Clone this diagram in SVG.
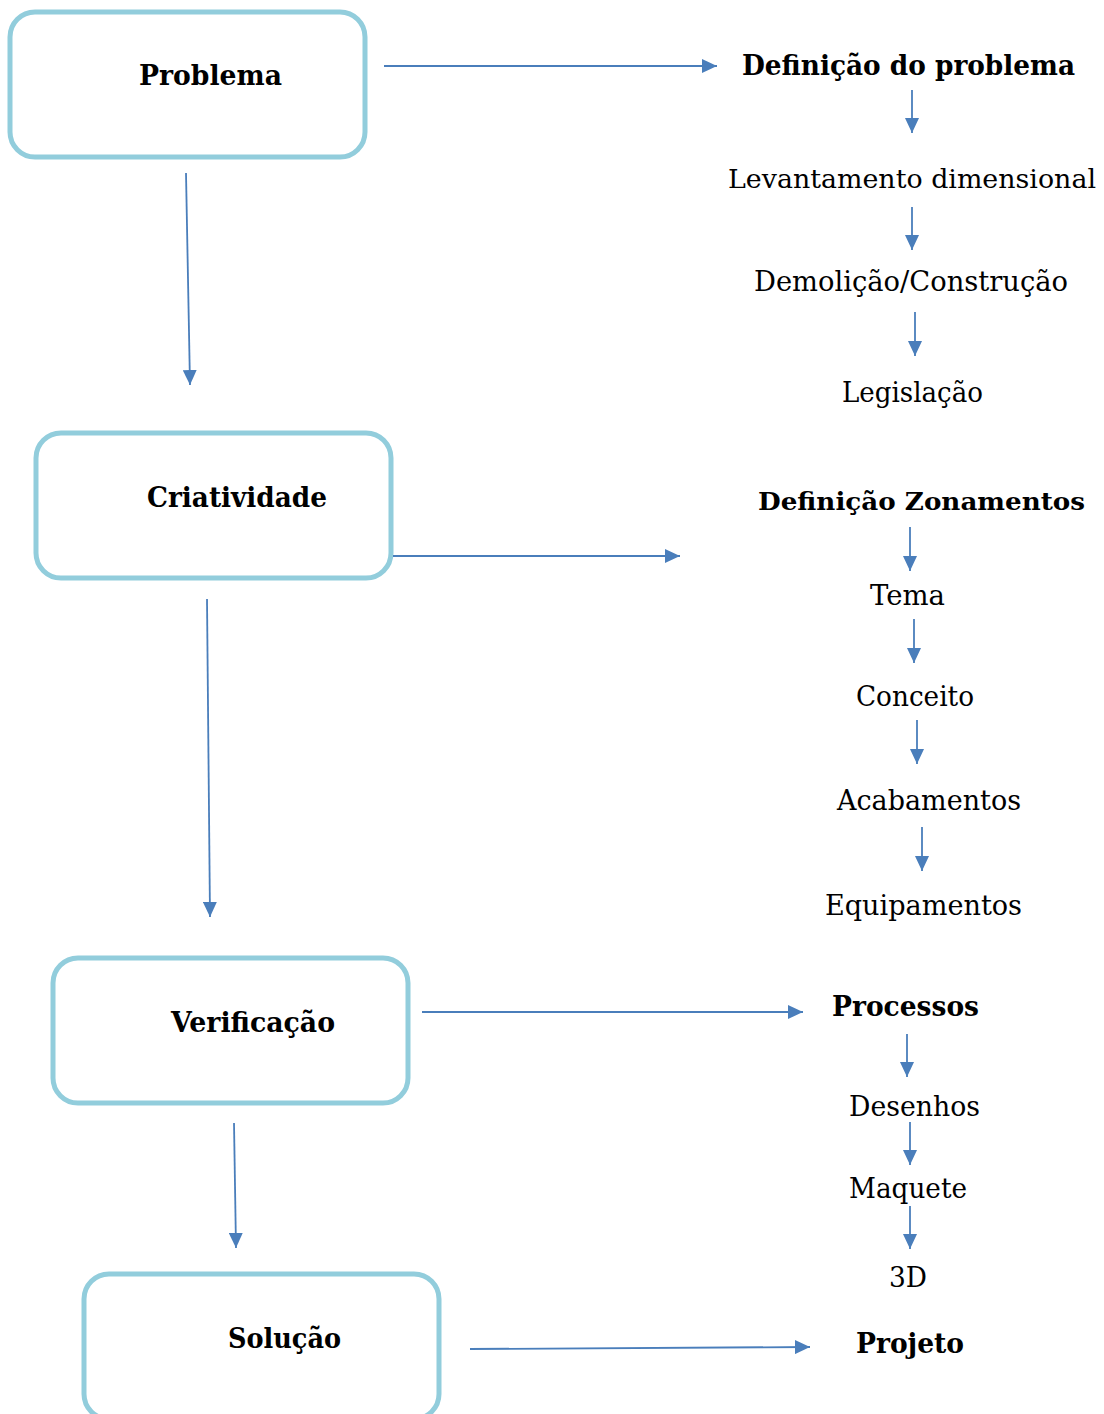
<svg xmlns="http://www.w3.org/2000/svg" width="1104" height="1414" viewBox="0 0 1104 1414">
<style>
.box{fill:#ffffff;stroke:#92CDDC;stroke-width:5}
.t{font-family:"DejaVu Serif","Liberation Serif",serif;font-size:28px;fill:#000}
.b{font-weight:bold;font-size:28px}
.c{stroke:#4A7EBB;stroke-width:1.8;fill:none;marker-end:url(#ah)}
</style>
<defs>
<marker id="ah" markerUnits="userSpaceOnUse" markerWidth="16" markerHeight="14" refX="15" refY="7" orient="auto">
<path d="M0,0 L15,7 L0,14 z" fill="#4A7EBB"/>
</marker>
</defs>
<rect width="1104" height="1414" fill="#ffffff"/>
<g id="node-problema">
<rect class="box" x="10" y="12" width="355" height="145" rx="25"/>
<text class="t b" x="139" y="85" textLength="143" lengthAdjust="spacingAndGlyphs">Problema</text>
</g>
<g id="node-criatividade">
<rect class="box" x="36" y="433" width="355" height="145" rx="25"/>
<text class="t b" x="147" y="507" textLength="180" lengthAdjust="spacingAndGlyphs">Criatividade</text>
</g>
<g id="node-verificacao">
<rect class="box" x="53" y="958" width="355" height="145" rx="25"/>
<text class="t b" x="171" y="1032" textLength="164" lengthAdjust="spacingAndGlyphs">Verificação</text>
</g>
<g id="node-solucao">
<rect class="box" x="84" y="1274" width="355" height="145" rx="25"/>
<text class="t b" x="228" y="1348" textLength="113" lengthAdjust="spacingAndGlyphs">Solução</text>
</g>
<g id="labels">
<text id="definicao-problema" class="t b" x="742" y="75" textLength="333" lengthAdjust="spacingAndGlyphs">Definição do problema</text>
<text id="levantamento" class="t" x="728" y="188" font-size="25.5" style="font-size:25.5px" textLength="368" lengthAdjust="spacingAndGlyphs">Levantamento dimensional</text>
<text id="demolicao" class="t" x="754" y="291" textLength="314" lengthAdjust="spacingAndGlyphs">Demolição/Construção</text>
<text id="legislacao" class="t" x="842" y="402" textLength="141" lengthAdjust="spacingAndGlyphs">Legislação</text>
<text id="definicao-zonamentos" class="t b" x="758" y="510" style="font-size:25px" textLength="327" lengthAdjust="spacingAndGlyphs">Definição Zonamentos</text>
<text id="tema" class="t" x="870" y="605" textLength="75" lengthAdjust="spacingAndGlyphs">Tema</text>
<text id="conceito" class="t" x="856" y="706" textLength="118" lengthAdjust="spacingAndGlyphs">Conceito</text>
<text id="acabamentos" class="t" x="837" y="810" textLength="184" lengthAdjust="spacingAndGlyphs">Acabamentos</text>
<text id="equipamentos" class="t" x="825" y="915" textLength="197" lengthAdjust="spacingAndGlyphs">Equipamentos</text>
<text id="processos" class="t b" x="832" y="1016" textLength="147" lengthAdjust="spacingAndGlyphs">Processos</text>
<text id="desenhos" class="t" x="849" y="1116" textLength="131" lengthAdjust="spacingAndGlyphs">Desenhos</text>
<text id="maquete" class="t" x="849" y="1198" textLength="118" lengthAdjust="spacingAndGlyphs">Maquete</text>
<text id="d3" class="t" x="889" y="1287" textLength="38" lengthAdjust="spacingAndGlyphs">3D</text>
<text id="projeto" class="t b" x="856" y="1353" textLength="108" lengthAdjust="spacingAndGlyphs">Projeto</text>
</g>
<g id="connectors">
<line class="c" x1="384" y1="66" x2="717" y2="66"/>
<line class="c" x1="186" y1="173" x2="190" y2="385"/>
<line class="c" x1="393" y1="556" x2="680" y2="556"/>
<line class="c" x1="207" y1="599" x2="210" y2="917"/>
<line class="c" x1="422" y1="1012" x2="803" y2="1012"/>
<line class="c" x1="234" y1="1123" x2="236" y2="1248"/>
<line class="c" x1="470" y1="1349" x2="810" y2="1347"/>
<line class="c" x1="912" y1="90" x2="912" y2="133"/>
<line class="c" x1="912" y1="207" x2="912" y2="250"/>
<line class="c" x1="915" y1="312" x2="915" y2="356"/>
<line class="c" x1="910" y1="527" x2="910" y2="571"/>
<line class="c" x1="914" y1="619" x2="914" y2="663"/>
<line class="c" x1="917" y1="720" x2="917" y2="764"/>
<line class="c" x1="922" y1="827" x2="922" y2="871"/>
<line class="c" x1="907" y1="1034" x2="907" y2="1077"/>
<line class="c" x1="910" y1="1122" x2="910" y2="1165"/>
<line class="c" x1="910" y1="1206" x2="910" y2="1249"/>
</g>
</svg>
